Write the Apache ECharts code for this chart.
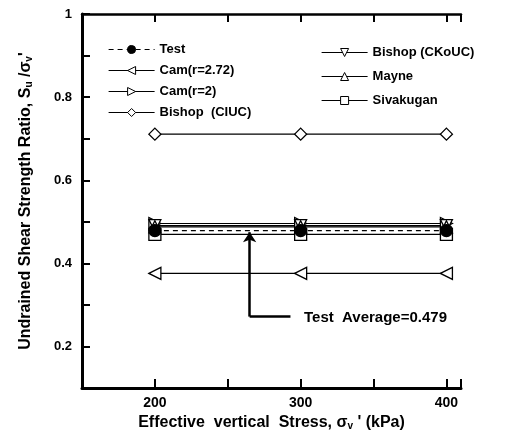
<!DOCTYPE html>
<html>
<head>
<meta charset="utf-8">
<script src="https://cdn.jsdelivr.net/npm/echarts@6/dist/echarts.min.js"></script>
<style>
  html, body { margin: 0; padding: 0; background: #fff; }
  #chart { width: 515px; height: 436px; }
</style>
</head>
<body>
<div id="chart"></div>
<script>
// stresses (kPa)
var stress = [200, 300, 400];
// Su/sigma_v' for each method
var test = [0.479, 0.479, 0.479];
var camR272 = [0.376, 0.376, 0.376];
var camR2 = [0.496, 0.496, 0.496];
var bishopCIUC = [0.711, 0.711, 0.711];
var bishopCKoUC = [0.491, 0.491, 0.491];
var mayne = [0.488, 0.488, 0.488];
var sivakugan = [0.470, 0.470, 0.470];
var testAverage = 0.479;

var F = '"Liberation Sans", Arial, sans-serif';

function pts(arr) {
  return stress.map(function (x, i) { return [x, arr[i]]; });
}

function mk(name, arr, symbol, rotate, filled, dashed) {
  return {
    name: name,
    type: 'line',
    data: pts(arr),
    symbol: symbol,
    symbolSize: 12,
    symbolRotate: rotate,
    lineStyle: { color: '#000', width: 1.2, type: dashed ? [5, 4] : 'solid' },
    itemStyle: { color: filled ? '#000' : '#fff', borderColor: '#000', borderWidth: 1.3 },
    emphasis: { disabled: true },
    z: filled ? 10 : 3
  };
}

var series = [
  mk('Test', test, 'circle', 0, true, true),
  mk('Cam(r=2.72)', camR272, 'triangle', 90, false),
  mk('Cam(r=2)', camR2, 'triangle', -90, false),
  mk('Bishop  (CIUC)', bishopCIUC, 'diamond', 0, false),
  mk('Bishop (CKoUC)', bishopCKoUC, 'triangle', 180, false),
  mk('Mayne', mayne, 'triangle', 0, false),
  mk('Sivakugan', sivakugan, 'rect', 0, false)
];

// arrow to the test average
series.push({
  type: 'line',
  data: [],
  silent: true,
  markLine: {
    silent: true,
    animation: false,
    label: { show: false },
    lineStyle: { color: '#000', width: 2.5, type: 'solid' },
    data: [
      [{ coord: [265, 0.272], symbol: 'none' }, { coord: [265, testAverage - 0.004], symbol: 'arrow', symbolSize: 10 }],
      [{ coord: [265, 0.272], symbol: 'none' }, { coord: [293, 0.272], symbol: 'none' }]
    ]
  }
});

var legendText = { fontFamily: F, fontWeight: 'bold', fontSize: 13, color: '#000' };

var chart = echarts.init(document.getElementById('chart'));
chart.setOption({
  animation: false,
  backgroundColor: '#fff',
  grid: { left: 82, right: 54, top: 14, bottom: 45 },
  legend: [
    {
      data: ['Test', 'Cam(r=2.72)', 'Cam(r=2)', 'Bishop  (CIUC)'],
      orient: 'vertical', left: 103, top: 38,
      itemWidth: 46, itemHeight: 10, itemGap: 8,
      lineStyle: { width: 1.2 },
      itemStyle: { borderWidth: 1 },
      textStyle: legendText, selectedMode: false
    },
    {
      data: ['Bishop (CKoUC)', 'Mayne', 'Sivakugan'],
      orient: 'vertical', left: 316, top: 41,
      itemWidth: 46, itemHeight: 10, itemGap: 11,
      lineStyle: { width: 1.2 },
      itemStyle: { borderWidth: 1 },
      textStyle: legendText, selectedMode: false
    }
  ],
  xAxis: [
    {
      type: 'value', min: 150, max: 410, interval: 50,
      splitLine: { show: false },
      axisLine: { onZero: false, lineStyle: { color: '#000', width: 3 } },
      axisTick: { inside: true, length: 9, lineStyle: { color: '#000', width: 2 } },
      axisLabel: {
        fontFamily: F, fontWeight: 'bold', fontSize: 14, color: '#000', margin: 8,
        formatter: function (v) { return v % 100 === 0 ? String(v) : ''; }
      },
      name: 'Effective  vertical  Stress, {s|σ}{sub|v}{s| \' (kPa)}',
      nameLocation: 'middle', nameGap: 22,
      nameTextStyle: {
        fontFamily: F, fontWeight: 'bold', fontSize: 16, color: '#000',
        rich: {
          s: { fontFamily: F, fontWeight: 'bold', fontSize: 16, color: '#000' },
          sub: { fontFamily: F, fontSize: 10, color: '#000', verticalAlign: 'bottom', padding: [6, 0, 0, 0] }
        }
      }
    },
    {
      type: 'value', min: 150, max: 410, interval: 50, position: 'top',
      splitLine: { show: false },
      axisLine: { lineStyle: { color: '#000', width: 2.5 } },
      axisTick: { inside: true, length: 8, lineStyle: { color: '#000', width: 2 } },
      axisLabel: { show: false }
    }
  ],
  yAxis: {
    type: 'value', min: 0.1, max: 1, interval: 0.1,
    splitLine: { show: false },
    axisLine: { onZero: false, lineStyle: { color: '#000', width: 3 } },
    axisTick: { inside: true, length: 8, lineStyle: { color: '#000', width: 2 } },
    axisLabel: {
      fontFamily: F, fontWeight: 'bold', fontSize: 13, color: '#000', margin: 10,
      formatter: function (v) {
        var r = Math.round(v * 10);
        if (r === 10) return '1';
        return r % 2 === 0 ? v.toFixed(1) : '';
      }
    },
    name: 'Undrained Shear Strength Ratio, S{sub|u} /{s|σ}{sub|v}{s|\'}',
    nameLocation: 'middle', nameGap: 48, nameRotate: 90,
    nameTextStyle: {
      fontFamily: F, fontWeight: 'bold', fontSize: 16, color: '#000',
      rich: {
        s: { fontFamily: F, fontSize: 16, color: '#000' },
        sub: { fontFamily: F, fontWeight: 'bold', fontSize: 10, color: '#000', verticalAlign: 'bottom', padding: [6, 0, 0, 0] }
      }
    }
  },
  graphic: [
    {
      type: 'text', left: 304, top: 310,
      style: { text: 'Test  Average=0.479', font: 'bold 15px ' + F, fill: '#000' }
    }
  ],
  series: series
});
</script>
</body>
</html>
